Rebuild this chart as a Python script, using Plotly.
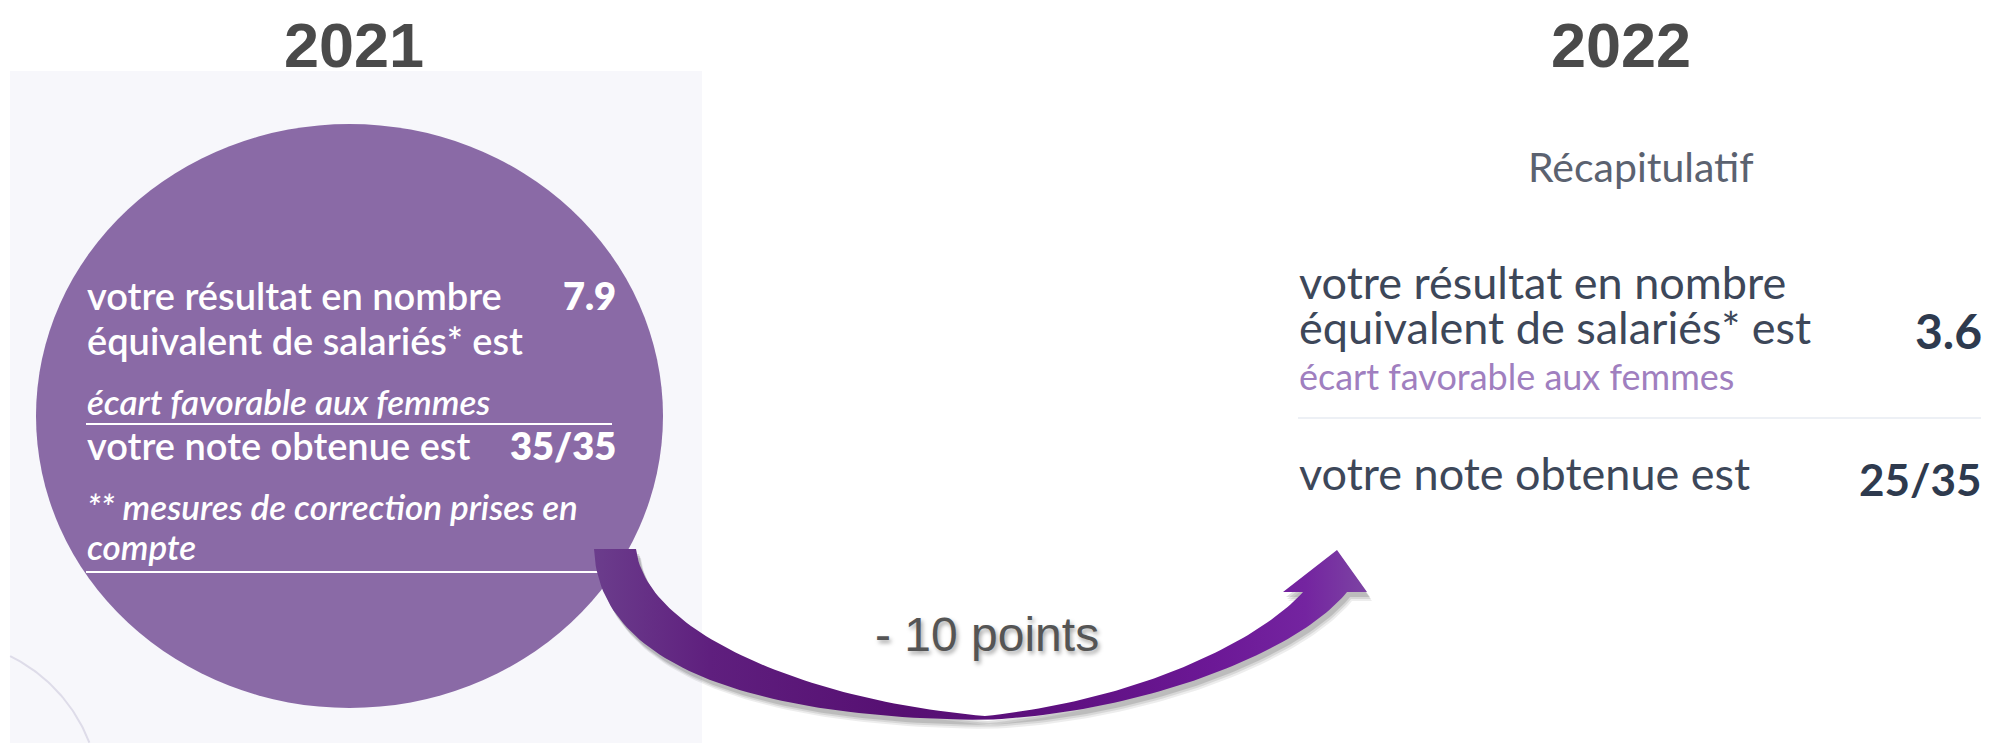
import numpy as np
import plotly.graph_objects as go

# ---------------- data ----------------
years = ["2021", "2022"]
result_values = [7.9, 3.6]          # résultat en nombre équivalent de salariés
note_values = [35, 25]              # note obtenue
note_max = 35
result_lines = ["votre résultat en nombre", "équivalent de salariés* est"]
gap_text = "écart favorable aux femmes"
note_text = "votre note obtenue est"
correction_lines = ["** mesures de correction prises en", "compte"]
summary_title = "Récapitulatif"

W, H = 1997, 743
PAGE_MARGIN = 8   # default body margin of the html page
fig = go.Figure()

LATO = "Lato, Open Sans, sans-serif"
ARIAL = "Arial, Liberation Sans, sans-serif"


def text(x, baseline, s, size, color, family=LATO, xanchor="left", weight=400,
         style="normal", shadow=None, k=0.39):
    font = dict(family=family, size=size, color=color, weight=weight, style=style)
    if shadow:
        font["shadow"] = shadow
    fig.add_annotation(x=x, y=baseline - k * size, text=s, showarrow=False,
                       xanchor=xanchor, yanchor="middle", font=font,
                       xref="x", yref="y", borderpad=0)


# ---------------- background panel & circle (2021) ----------------
fig.add_shape(type="rect", x0=10, y0=71, x1=702, y1=H, fillcolor="#f7f7fb",
              line_width=0, layer="below")
th = np.radians(np.linspace(21, 64, 60))
fig.add_trace(go.Scatter(x=-60 + 160 * np.cos(th), y=800 - 160 * np.sin(th),
                         mode="lines", line=dict(color="#dedce9", width=2),
                         hoverinfo="skip", showlegend=False))
fig.add_shape(type="circle", x0=36, y0=124, x1=663, y1=708,
              fillcolor="#8a6aa6", line_width=0, layer="below")
fig.add_shape(type="line", x0=86, y0=424, x1=612, y1=424,
              line=dict(color="#ffffff", width=2), layer="below")
fig.add_shape(type="line", x0=86, y0=572, x1=612, y1=572,
              line=dict(color="#ffffff", width=2), layer="below")
fig.add_shape(type="line", x0=1298, y0=418, x1=1981, y1=418,
              line=dict(color="#edf0f5", width=2), layer="below")


# ---------------- curved arrow ----------------
def bez(p0, p1, p2, p3, n=60):
    t = np.linspace(0, 1, n)[:, None]
    p0, p1, p2, p3 = map(np.array, (p0, p1, p2, p3))
    return ((1 - t) ** 3) * p0 + 3 * ((1 - t) ** 2) * t * p1 + 3 * (1 - t) * t ** 2 * p2 + t ** 3 * p3


outer_left = bez((594, 549), (598, 660), (740, 718), (985, 720))
lower_right = bez((985, 720), (1150, 712), (1300, 650), (1347, 592))
head = np.array([[1367, 592], [1337, 550], [1283, 592], [1303, 592]])
upper_right = bez((985, 716), (1140, 700), (1260, 640), (1303, 592))[::-1]
inner_left = bez((636, 549), (645, 630), (800, 700), (985, 716))[::-1]
poly = np.vstack([outer_left, lower_right, head, upper_right, inner_left, [[594, 549]]])

for dx, dy, a in [(5, 9, 0.07), (4, 7, 0.09), (3, 5, 0.12)]:
    fig.add_trace(go.Scatter(x=poly[:, 0] + dx, y=poly[:, 1] + dy, mode="lines",
                             fill="toself", fillcolor=f"rgba(0,0,0,{a})",
                             line=dict(width=0), hoverinfo="skip", showlegend=False))
fig.add_trace(go.Scatter(
    x=poly[:, 0], y=poly[:, 1], mode="lines", fill="toself",
    fillgradient=dict(type="horizontal", colorscale=[
        [0.0, "#6b3d8c"], [0.15, "#5f1f7e"], [0.4, "#560f72"], [0.6, "#5e1080"],
        [0.8, "#6c1896"], [0.92, "#7424a0"], [1.0, "#7c44a3"]]),
    line=dict(width=0), hoverinfo="skip", showlegend=False))

# ---------------- texts ----------------
text(354, 67, years[0], 63, "#4a4a4a", family=ARIAL, xanchor="center", weight=700, k=0.3465)
text(1621, 67, years[1], 63, "#4a4a4a", family=ARIAL, xanchor="center", weight=700, k=0.3465)

# 2021 circle
white = "#ffffff"
text(86, 310, result_lines[0], 38, white, weight=600)
text(86, 355, result_lines[1], 38, white, weight=600)
text(617, 310, f"{result_values[0]:.1f}", 38, white, xanchor="right", weight=800)
text(86, 415, gap_text, 35, white, weight=600, style="italic")
text(86, 460, note_text, 38, white, weight=600)
text(617, 460, f"{note_values[0]}/{note_max}", 38, white, xanchor="right", weight=800)
text(86, 520, correction_lines[0], 35, white, weight=600, style="italic")
text(86, 560, correction_lines[1], 35, white, weight=600, style="italic")

# 2022 summary
dark = "#3d4759"
text(1641, 182, summary_title, 41, "#5b6270", xanchor="center")
text(1298, 300, result_lines[0], 45, dark)
text(1298, 345, result_lines[1], 45, dark)
text(1298, 390, gap_text, 36, "#a07fbf")
text(1983, 349, f"{result_values[1]:.1f}", 48, "#2e3a4e", xanchor="right", weight=700)
text(1298, 491, note_text, 45, dark)
text(1983, 496, f"{note_values[1]}/{note_max}", 44, "#2e3a4e", xanchor="right", weight=700)

# difference label
diff = note_values[1] - note_values[0]
text(987, 652, f"- {abs(diff)} points", 48, "#555555", family=ARIAL, xanchor="center",
     k=0.36, shadow="2px 3px 4px rgba(0,0,0,0.35)")

fig.update_layout(
    width=W - PAGE_MARGIN, height=H - PAGE_MARGIN, margin=dict(l=0, r=0, t=0, b=0),
    paper_bgcolor="#ffffff", plot_bgcolor="#ffffff", showlegend=False,
    xaxis=dict(range=[PAGE_MARGIN, W], visible=False, fixedrange=True),
    yaxis=dict(range=[H, PAGE_MARGIN], visible=False, fixedrange=True),
)
fig.write_html("out.html")
